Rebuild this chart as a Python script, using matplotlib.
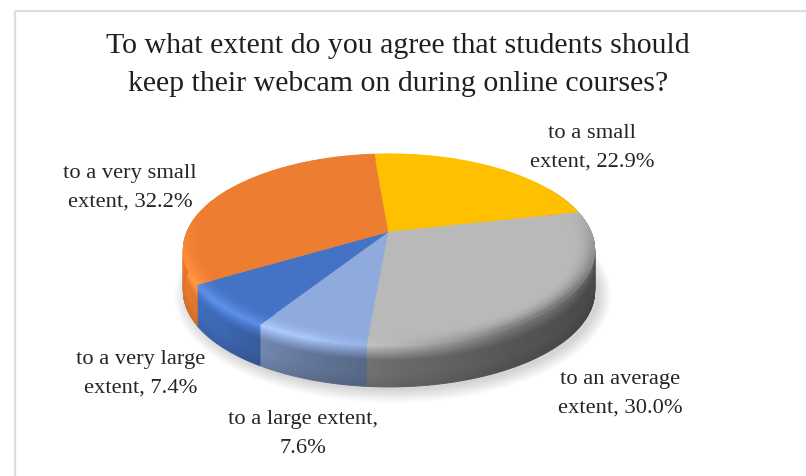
import numpy as np
import matplotlib
matplotlib.use("Agg")
import matplotlib.pyplot as plt
from matplotlib.collections import PolyCollection
from matplotlib.colors import to_rgb
from matplotlib.patches import Polygon

plt.rcParams['font.family'] = ['Liberation Serif', 'DejaVu Serif']

title = "To what extent do you agree that students should\nkeep their webcam on during online courses?"
values = [22.9, 30.0, 7.6, 7.4, 32.2]
colors = ["#ffc000", "#b9b9b9", "#8faadc", "#4472c4", "#ed7d31"]
label_texts = ["to a small\nextent, 22.9%", "to an average\nextent, 30.0%", "to a large extent,\n7.6%",
               "to a very large\nextent, 7.4%", "to a very small\nextent, 32.2%"]
label_xy = [(592, 148), (620, 394), (303, 434), (141, 374), (130, 188)]

W, H = 806, 477
CX, CY = 388, 233      # apex of the slices on the top face
A, B, K = 202, 92.6, 0.187
DEPTH = 41
START = 95.0

fig = plt.figure(figsize=(W / 100, H / 100), dpi=100)
ax = fig.add_axes([0, 0, 1, 1])
ax.set_xlim(0, W)
ax.set_ylim(H, 0)
ax.axis("off")


def proj(t, r, f=0.0):
    """Perspective map of polar (deg, radius) on the disc; f = drop down the wall."""
    t = np.radians(t)
    u, v = r * np.cos(t), r * np.sin(t)
    w = 1 + K * v
    return CX + r + A * u / w, CY - B * v / w + f * DEPTH


# side-wall lighting as a function of the angle (light from the left)
ANG = [-265, -180, -150, -135, -110, -90, -60, -30, 0, 30, 95]
BOT = [1.00, 1.00, 0.95, 0.90, 0.70, 0.58, 0.46, 0.40, 0.38, 0.38, 0.38]
TOP = [1.12, 1.12, 1.20, 1.20, 1.16, 1.00, 0.66, 0.56, 0.54, 0.54, 0.54]


def wrap(t):
    return (np.asarray(t) + 265) % 360 - 265


def shade(rgb, m):
    m = np.asarray(m)[..., None]
    rgb = np.asarray(rgb)
    out = np.where(m <= 1, rgb * m, rgb + (m - 1) * (0.55 + 0.45 * rgb) * 0.9)
    return np.clip(out, 0, 1)


# frame
ax.plot([15, 15], [H, 12], color="#dddddd", lw=1.6, solid_capstyle="butt", zorder=0)
ax.plot([15, 806], [12, 12], color="#dddddd", lw=1.6, solid_capstyle="butt", zorder=0)

# soft shadow
tt = np.linspace(0, 360, 240)
for grow in np.linspace(13, 0, 14):
    sx = 393 + (A / np.sqrt(1 - K ** 2) + grow) * np.cos(np.radians(tt))
    sy = 251 + DEPTH + 4 + (95 + grow) * np.sin(np.radians(tt))
    ax.add_patch(Polygon(np.c_[sx, sy], closed=True, fc="black", ec="none", alpha=0.010, zorder=1))

# slices
fractions = np.array(values) / np.sum(values)
bounds = START - 360 * np.concatenate([[0], np.cumsum(fractions)])
WALL_F = np.linspace(0, 1, 21)
RIM_R = np.linspace(0.90, 1.0, 8)

for i, col in enumerate(colors):
    rgb = np.array(to_rgb(col))
    t0, t1 = bounds[i], bounds[i + 1]
    n = max(int((t0 - t1) * 1.5), 3)
    ts = np.linspace(t0, t1, n + 1)

    # flat part of the top
    x2, y2 = proj(ts, RIM_R[0])
    ax.add_patch(Polygon(np.c_[np.r_[CX, x2], np.r_[CY, y2]], closed=True, fc=col, ec=col, lw=0.3, zorder=4))

    # rim and wall quads
    rim_p, rim_c, wall_p, wall_c = [], [], [], []
    for a, b in zip(ts[:-1], ts[1:]):
        mid = wrap((a + b) / 2)
        top = np.interp(mid, ANG, TOP)
        bot = np.interp(mid, ANG, BOT)
        front = np.clip((0.25 - np.sin(np.radians(mid))) / 0.9, 0, 1)
        for r0, r1 in zip(RIM_R[:-1], RIM_R[1:]):
            xa, ya = proj(np.array([a, b]), r0)
            xb, yb = proj(np.array([b, a]), r1)
            rim_p.append(np.c_[np.r_[xa, xb], np.r_[ya, yb]])
            s = ((r0 + r1) / 2 - RIM_R[0]) / (1 - RIM_R[0])
            rim_c.append(shade(rgb, 1 + (top - 1) * s ** 2 * front))
        if np.sin(np.radians(mid)) < 0.5:
            for f0, f1 in zip(WALL_F[:-1], WALL_F[1:]):
                xa, ya = proj(np.array([a, b]), 1.0, f0)
                xb, yb = proj(np.array([b, a]), 1.0, f1)
                wall_p.append(np.c_[np.r_[xa, xb], np.r_[ya, yb]])
                fm = (f0 + f1) / 2
                s = min(fm / 0.36, 1)
                m = top + (bot - top) * s
                d = (fm - 0.7) / 0.3
                if d > 0:
                    m = m * (1 - 0.08 * d)
                wall_c.append(shade(rgb, m))
    ax.add_collection(PolyCollection(wall_p, facecolors=wall_c, edgecolors=wall_c, linewidths=0.7, zorder=2))
    ax.add_collection(PolyCollection(rim_p, facecolors=rim_c, edgecolors=rim_c, linewidths=0.7, zorder=3))

# text
ax.text(398, 65, title, ha="center", va="center", fontsize=21.5, color="#1f1f1f", linespacing=1.62, zorder=5)
for s, (lx, ly) in zip(label_texts, label_xy):
    ax.text(lx, ly, s, ha="center", va="center", fontsize=16.2, color="#262626", linespacing=1.66, zorder=5)

fig.savefig("out.png", dpi=100, facecolor="white")
